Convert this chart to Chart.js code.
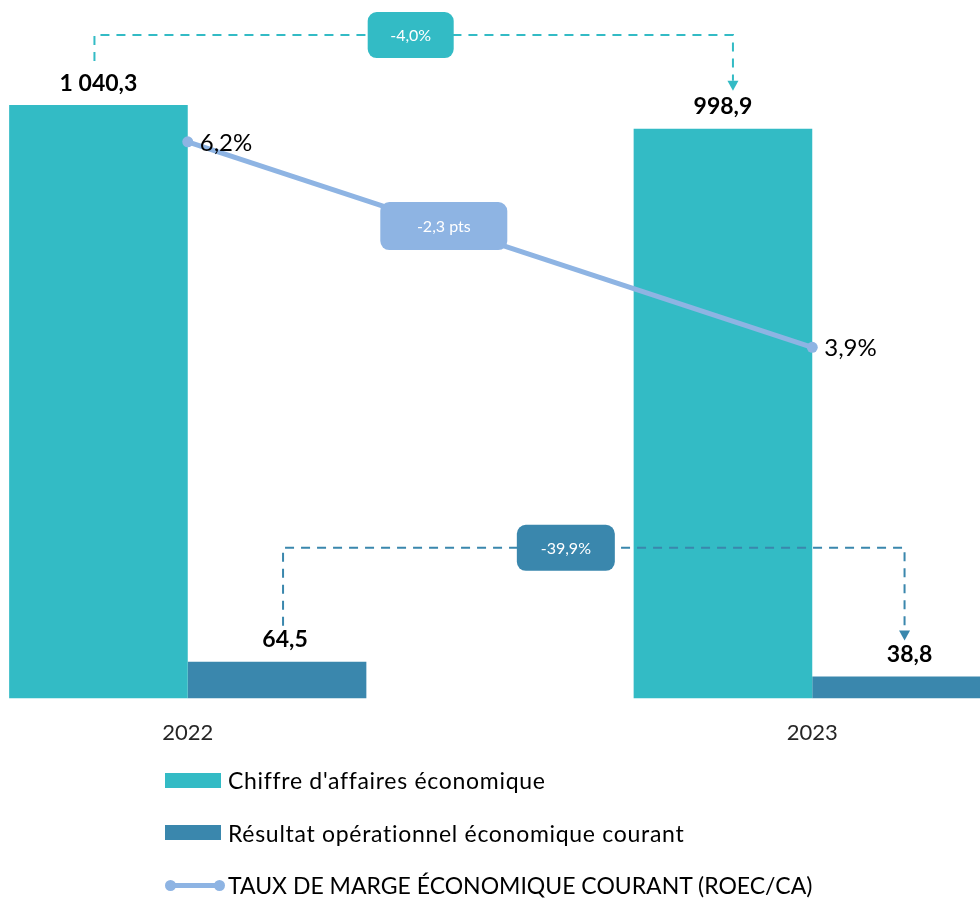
<!DOCTYPE html>
<html lang="fr">
<head>
<meta charset="utf-8">
<script src="https://cdn.jsdelivr.net/npm/chart.js@4/dist/chart.umd.min.js"></script>
<style>
  html, body { margin: 0; padding: 0; background: #fff; width: 980px; height: 898px; overflow: hidden; }
  #wrap { position: absolute; left: -130px; top: 0; width: 1260px; height: 759px; }
  #legend { position: absolute; left: 165px; top: 754px; font-family: Lato, sans-serif; font-size: 23px; color: #000; }
  .item { display: flex; align-items: center; height: 52.5px; white-space: nowrap; }
  .item.wide { letter-spacing: 0.7px; }
  .box { width: 56px; height: 15px; margin-right: 7px; }
  .line { position: relative; width: 60px; height: 15px; margin-right: 3px; }
  .line span { position: absolute; top: 5px; left: 4px; right: 4px; height: 5px; }
  .line i { position: absolute; top: 2px; width: 11px; height: 11px; border-radius: 50%; }
</style>
</head>
<body>
<div id="wrap"><canvas id="chart"></canvas></div>
<div id="legend"></div>
<script>
const FONT = 'Lato';
const TEAL = '#33BBC5';
const DARK = '#3A87AD';
const LIGHT = '#8EB4E3';

const years = ['2022', '2023'];
const chiffreAffaires = [1040.3, 998.9];
const resultatOperationnel = [64.5, 38.8];
const tauxMarge = [6.2, 3.9];
const seriesNames = [
  "Chiffre d'affaires économique",
  'Résultat opérationnel économique courant',
  'TAUX DE MARGE ÉCONOMIQUE COURANT (ROEC/CA)'
];
// CA change, ROEC change, margin change
const changeLabels = ['-4,0%', '-39,9%', '-2,3 pts'];

const fmt = (v) => {
  const [int, dec] = v.toFixed(1).split('.');
  return int.replace(/\B(?=(\d{3})+(?!\d))/g, ' ') + ',' + dec;
};
const fmtPct = (v) => v.toFixed(1).replace('.', ',') + '%';

const drawBox = (ctx, cx, cy, w, h, color, text, size) => {
  ctx.save();
  ctx.fillStyle = color;
  ctx.beginPath();
  ctx.roundRect(cx - w / 2, cy - h / 2, w, h, 9);
  ctx.fill();
  ctx.fillStyle = '#fff';
  ctx.font = `${size}px ${FONT}`;
  ctx.textAlign = 'center';
  ctx.textBaseline = 'middle';
  ctx.fillText(text, cx, cy + 1);
  ctx.restore();
};

const drawBracket = (ctx, x1, y1, x2, y2, level, color) => {
  ctx.save();
  ctx.strokeStyle = color;
  ctx.lineWidth = 2;
  ctx.setLineDash([9, 7]);
  ctx.beginPath();
  ctx.moveTo(x1, y1);
  ctx.lineTo(x1, level);
  ctx.lineTo(x2, level);
  ctx.lineTo(x2, y2 - 10);
  ctx.stroke();
  ctx.setLineDash([]);
  ctx.fillStyle = color;
  ctx.beginPath();
  ctx.moveTo(x2 - 5.5, y2 - 10);
  ctx.lineTo(x2 + 5.5, y2 - 10);
  ctx.lineTo(x2, y2);
  ctx.closePath();
  ctx.fill();
  ctx.restore();
};

// value labels, brackets and change boxes
const annotations = {
  id: 'annotations',
  afterDatasetsDraw(chart) {
    const ctx = chart.ctx;
    const ca = chart.getDatasetMeta(0).data;
    const ro = chart.getDatasetMeta(1).data;
    const pts = chart.getDatasetMeta(2).data;

    ctx.save();
    ctx.fillStyle = '#000';
    ctx.textAlign = 'center';
    ctx.textBaseline = 'middle';
    ctx.font = `bold 23px ${FONT}`;
    ca.forEach((bar, i) => ctx.fillText(fmt(chiffreAffaires[i]), bar.x, bar.y - 22));
    ro.forEach((bar, i) => ctx.fillText(fmt(resultatOperationnel[i]), bar.x + 8, bar.y - 22));
    ctx.textAlign = 'left';
    ctx.font = `24px ${FONT}`;
    pts.forEach((p, i) => ctx.fillText(fmtPct(tauxMarge[i]), p.x + 12, p.y + 1));
    ctx.restore();

    // CA bracket
    const l1 = Math.min(ca[0].y, ca[1].y) - 70;
    const ax1 = ca[0].x - 4, ax2 = ca[1].x + 10;
    drawBracket(ctx, ax1, ca[0].y - 44, ax2, ca[1].y - 38, l1, TEAL);
    drawBox(ctx, (ax1 + ax2) / 2 - 3, l1, 86, 46, TEAL, changeLabels[0], 16);

    // ROEC bracket
    const l2 = ro[0].y - 114;
    const bx1 = ro[0].x + 6, bx2 = ro[1].x + 3;
    drawBracket(ctx, bx1, ro[0].y - 36, bx2, ro[1].y - 36, l2, DARK);
    drawBox(ctx, bx1 + 0.455 * (bx2 - bx1), l2, 98, 46, DARK, changeLabels[1], 16);

    // margin change on the line
    const t = 0.41;
    drawBox(ctx, pts[0].x + t * (pts[1].x - pts[0].x), pts[0].y + t * (pts[1].y - pts[0].y),
      127, 48, LIGHT, changeLabels[2], 16);
  }
};

const data = {
  labels: years,
  datasets: [
    { label: seriesNames[0], data: chiffreAffaires, backgroundColor: TEAL, order: 1,
      categoryPercentage: 0.572, barPercentage: 1 },
    { label: seriesNames[1], data: resultatOperationnel, backgroundColor: DARK, order: 1,
      categoryPercentage: 0.572, barPercentage: 1 },
    { type: 'line', label: seriesNames[2], data: tauxMarge, yAxisID: 'y1', order: 0,
      borderColor: LIGHT, backgroundColor: LIGHT, borderWidth: 5,
      pointRadius: 5.5, pointBackgroundColor: LIGHT, pointBorderWidth: 0 }
  ]
};

const config = {
  type: 'bar',
  data: data,
  options: {
    responsive: true,
    maintainAspectRatio: false,
    animation: false,
    layout: { padding: { top: 14, bottom: 0, left: 0, right: 0 } },
    plugins: { legend: { display: false }, tooltip: { enabled: false } },
    scales: {
      x: {
        grid: { display: false },
        border: { display: false },
        ticks: { font: { family: FONT, size: 22 }, color: '#262626', padding: 13 }
      },
      y: { display: false, min: 0, max: 1200 },
      y1: { display: false, min: -0.03, max: 7.63 }
    }
  },
  plugins: [annotations]
};

window.onload = () => {
  const chart = new Chart(document.getElementById('chart'), config);

  // HTML legend, one item per row
  const legend = document.getElementById('legend');
  chart.data.datasets.forEach((ds) => {
    const row = document.createElement('div');
    row.className = ds.type === 'line' ? 'item' : 'item wide';
    let sym;
    if (ds.type === 'line') {
      sym = document.createElement('div');
      sym.className = 'line';
      sym.innerHTML = `<span style="background:${ds.borderColor}"></span>` +
        `<i style="left:0;background:${ds.borderColor}"></i><i style="right:0;background:${ds.borderColor}"></i>`;
    } else {
      sym = document.createElement('div');
      sym.className = 'box';
      sym.style.background = ds.backgroundColor;
    }
    row.appendChild(sym);
    row.appendChild(document.createTextNode(ds.label));
    legend.appendChild(row);
  });
};
</script>
</body>
</html>
